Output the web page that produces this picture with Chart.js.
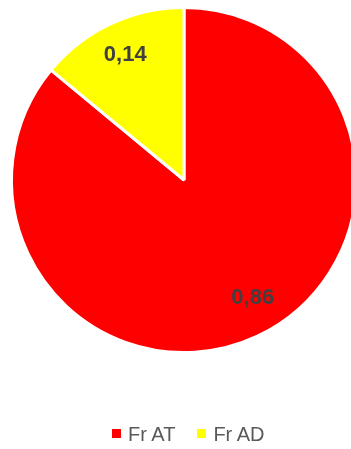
<!DOCTYPE html>
<html>
<head>
<meta charset="utf-8">
<script src="https://cdn.jsdelivr.net/npm/chart.js@4/dist/chart.umd.min.js"></script>
<style>
  body { margin: 0; background: #fff; overflow: hidden; }
  #frame { width: 351px; height: 449px; position: relative; overflow: hidden; }
  #wrap { width: 368px; height: 449px; position: absolute; left: 0; top: 0; }
  #legend {
    position: absolute; left: 112px; top: 424px; height: 20px;
    display: flex; align-items: center;
    font: 20px/20px "Liberation Sans", Arial, sans-serif; color: #595959;
  }
  #legend .item { display: flex; align-items: center; margin-right: 22px; }
  #legend .box { width: 9px; height: 9px; margin-right: 7px; position: relative; top: -1px; }
</style>
</head>
<body>
<div id="frame">
  <div id="wrap"><canvas id="pie"></canvas></div>
  <div id="legend"></div>
</div>
<script>
const categories = ['Fr AT', 'Fr AD'];
const shares = [0.86, 0.14];
const sliceColors = ['#ff0000', '#ffff00'];

// value labels drawn inside each slice (Excel places the big one a bit off the bisector)
const labelNudge = [[10, -7], [0, 0]];
const sliceLabels = {
  id: 'sliceLabels',
  afterDatasetsDraw(chart) {
    const ctx = chart.ctx;
    const meta = chart.getDatasetMeta(0);
    ctx.save();
    ctx.font = 'bold 22px "Liberation Sans", Arial, sans-serif';
    ctx.fillStyle = '#404040';
    ctx.textAlign = 'center';
    ctx.textBaseline = 'middle';
    meta.data.forEach((arc, i) => {
      const p = arc.getProps(['x', 'y', 'startAngle', 'endAngle', 'outerRadius'], true);
      const mid = (p.startAngle + p.endAngle) / 2;
      const r = p.outerRadius * 0.8;
      const text = shares[i].toFixed(2).replace('.', ',');
      ctx.fillText(text,
        p.x + Math.cos(mid) * r + labelNudge[i][0],
        p.y + Math.sin(mid) * r + labelNudge[i][1]);
    });
    ctx.restore();
  }
};

// legend as plain text under the pie
const legend = document.getElementById('legend');
categories.forEach((name, i) => {
  const item = document.createElement('span');
  item.className = 'item';
  const box = document.createElement('span');
  box.className = 'box';
  box.style.background = sliceColors[i];
  item.appendChild(box);
  item.appendChild(document.createTextNode(name));
  legend.appendChild(item);
});

new Chart(document.getElementById('pie').getContext('2d'), {
  type: 'pie',
  data: {
    labels: categories,
    datasets: [{
      data: shares,
      backgroundColor: sliceColors,
      borderColor: '#ffffff',
      borderWidth: 3
    }]
  },
  options: {
    responsive: true,
    maintainAspectRatio: false,
    animation: false,
    layout: {
      padding: { top: 6, left: 0, right: 0, bottom: 95 }
    },
    plugins: {
      tooltip: { enabled: false },
      legend: { display: false }
    }
  },
  plugins: [sliceLabels]
});
</script>
</body>
</html>
